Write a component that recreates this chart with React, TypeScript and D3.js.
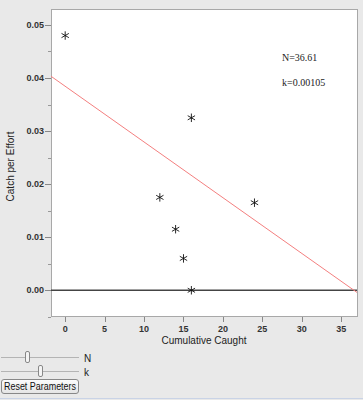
import { useEffect, useRef } from 'react';
import * as d3 from 'd3';

// data
const cumulativeCaught = [0, 12, 14, 15, 16, 16, 24];
const catchPerEffort = [0.048, 0.0175, 0.0115, 0.006, 0.0325, 0, 0.0165];

const xTicks = [0, 5, 10, 15, 20, 25, 30, 35];
const yTicks = [0, 0.01, 0.02, 0.03, 0.04, 0.05];
const yMinorTicks = [-0.005, 0.005, 0.015, 0.025, 0.035, 0.045];

// fitted parameters
const paramN = 36.61;
const paramK = 0.00105;

const W = 363;
const H = 400;
const margin = { left: 51, top: 9, right: 6, bottom: 84 };

export default function App() {
  const svgRef = useRef<SVGSVGElement>(null);

  useEffect(() => {
    if (!svgRef.current) return;
    const svg = d3.select(svgRef.current);
    svg.selectAll('*').remove();

    const pw = W - margin.left - margin.right;
    const ph = H - margin.top - margin.bottom;

    const x = d3.scaleLinear().domain([-1.8, 37]).range([0, pw]);
    const y = d3.scaleLinear().domain([-0.00485, 0.053]).range([ph, 0]);

    // background
    svg.append('rect').attr('width', W).attr('height', H).attr('fill', '#e9e9e9');

    const g = svg.append('g').attr('transform', `translate(${margin.left},${margin.top})`);

    g.append('rect')
      .attr('x', 0.5)
      .attr('y', 0.5)
      .attr('width', pw)
      .attr('height', ph)
      .attr('fill', '#fff')
      .attr('stroke', '#a8a8a8');

    g.append('defs').append('clipPath').attr('id', 'plotclip')
      .append('rect').attr('width', pw).attr('height', ph);

    // x axis ticks
    const xAxis = g.append('g').attr('transform', `translate(0,${ph})`);
    xTicks.forEach(t => {
      xAxis.append('line')
        .attr('x1', Math.round(x(t)) + 0.5).attr('x2', Math.round(x(t)) + 0.5)
        .attr('y1', 1).attr('y2', 6)
        .attr('stroke', '#888');
      xAxis.append('text')
        .attr('x', x(t))
        .attr('y', 16)
        .attr('text-anchor', 'middle')
        .style('font-family', 'Liberation Sans, Arial, sans-serif')
        .style('font-size', '9px')
        .style('font-weight', 'bold')
        .attr('fill', '#333')
        .text(d3.format('d')(t));
    });

    // y axis ticks
    const yAxis = g.append('g');
    yTicks.forEach(t => {
      yAxis.append('line')
        .attr('x1', -6).attr('x2', 0)
        .attr('y1', Math.round(y(t)) + 0.5).attr('y2', Math.round(y(t)) + 0.5)
        .attr('stroke', '#888');
      yAxis.append('text')
        .attr('x', -7)
        .attr('y', y(t))
        .attr('dy', '0.35em')
        .attr('text-anchor', 'end')
        .style('font-family', 'Liberation Sans, Arial, sans-serif')
        .style('font-size', '9px')
        .style('font-weight', 'bold')
        .attr('fill', '#333')
        .text(d3.format('.2f')(t));
    });
    yMinorTicks.forEach(t => {
      yAxis.append('line')
        .attr('x1', -3).attr('x2', 0)
        .attr('y1', Math.round(y(t)) + 0.5).attr('y2', Math.round(y(t)) + 0.5)
        .attr('stroke', '#999');
    });

    const plot = g.append('g').attr('clip-path', 'url(#plotclip)');

    // zero line
    plot.append('line')
      .attr('x1', 0).attr('x2', pw)
      .attr('y1', y(0)).attr('y2', y(0))
      .attr('stroke', '#444')
      .attr('stroke-width', 1.6);

    // model line: CPUE = k (N - caught)
    const lineX = x.domain();
    const model = d3.line<number>()
      .x(d => x(d))
      .y(d => y(paramK * (paramN - d)));
    plot.append('path')
      .attr('d', model(lineX))
      .attr('fill', 'none')
      .attr('stroke', '#f47f7f')
      .attr('stroke-width', 1);

    // points
    const star = d3.symbol().type(d3.symbolAsterisk).size(50);
    cumulativeCaught.forEach((c, i) => {
      plot.append('path')
        .attr('transform', `translate(${x(c)},${y(catchPerEffort[i])})`)
        .attr('d', star())
        .attr('fill', 'none')
        .attr('stroke', '#111')
        .attr('stroke-width', 0.9);
    });

    // parameter annotation
    const ann = g.append('g')
      .style('font-family', 'Liberation Serif, Times New Roman, serif')
      .style('font-size', '10px')
      .attr('fill', '#222');
    ann.append('text').attr('x', 231).attr('y', 52).text(`N=${paramN}`);
    ann.append('text').attr('x', 231).attr('y', 77).text(`k=${paramK}`);

    // axis titles
    svg.append('text')
      .attr('x', margin.left + pw / 2)
      .attr('y', 344)
      .attr('text-anchor', 'middle')
      .style('font-family', 'Liberation Sans, Arial, sans-serif')
      .style('font-size', '10px')
      .attr('fill', '#222')
      .text('Cumulative Caught');

    svg.append('text')
      .attr('transform', `translate(14,${margin.top + ph / 2 + 4}) rotate(-90)`)
      .attr('text-anchor', 'middle')
      .style('font-family', 'Liberation Sans, Arial, sans-serif')
      .style('font-size', '10px')
      .attr('fill', '#222')
      .text('Catch per Effort');

    // sliders
    const sliders = [
      { label: 'N', y: 357.5, pos: 28 },
      { label: 'k', y: 371.5, pos: 41 },
    ];
    sliders.forEach(s => {
      svg.append('line')
        .attr('x1', 1).attr('x2', 79)
        .attr('y1', s.y).attr('y2', s.y)
        .attr('stroke', '#b4b4b4');
      svg.append('rect')
        .attr('x', s.pos - 2.5).attr('y', s.y - 6)
        .attr('width', 4).attr('height', 11)
        .attr('rx', 1.5)
        .attr('fill', '#f4f4f4')
        .attr('stroke', '#888');
      svg.append('text')
        .attr('x', 84).attr('y', s.y + 4)
        .style('font-family', 'Liberation Sans, Arial, sans-serif')
        .style('font-size', '10px')
        .attr('fill', '#222')
        .text(s.label);
    });

    // reset button
    const grad = svg.append('defs').append('linearGradient')
      .attr('id', 'btngrad').attr('x1', 0).attr('x2', 0).attr('y1', 0).attr('y2', 1);
    grad.append('stop').attr('offset', '0%').attr('stop-color', '#fdfdfd');
    grad.append('stop').attr('offset', '100%').attr('stop-color', '#e4e4e4');
    svg.append('rect')
      .attr('x', 1.5).attr('y', 379.5)
      .attr('width', 77).attr('height', 14)
      .attr('rx', 2.5)
      .attr('fill', 'url(#btngrad)')
      .attr('stroke', '#888');
    svg.append('text')
      .attr('x', 40).attr('y', 390)
      .attr('text-anchor', 'middle')
      .attr('textLength', 72)
      .attr('lengthAdjust', 'spacingAndGlyphs')
      .style('font-family', 'Liberation Sans, Arial, sans-serif')
      .style('font-size', '10px')
      .attr('fill', '#111')
      .text('Reset Parameters');

    svg.append('line')
      .attr('x1', 0).attr('x2', W)
      .attr('y1', 398.5).attr('y2', 398.5)
      .attr('stroke', '#c9d3e6');
  }, []);

  return (
    <div style={{ position: 'absolute', left: 0, top: 0 }}>
      <svg ref={svgRef} width={W} height={H} style={{ display: 'block' }} />
    </div>
  );
}
